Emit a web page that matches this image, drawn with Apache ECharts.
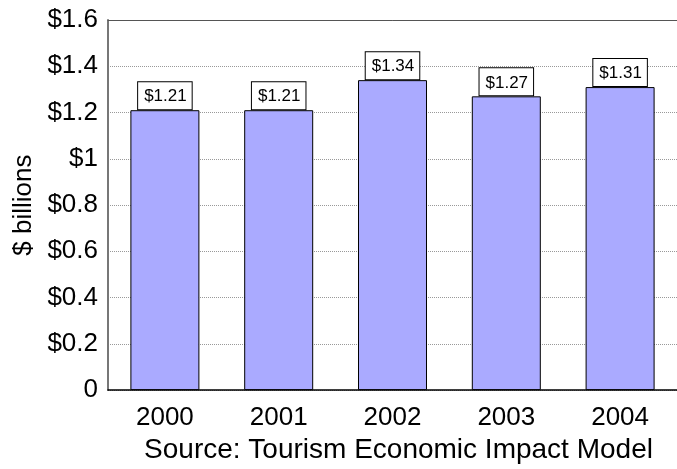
<!DOCTYPE html>
<html>
<head>
<meta charset="utf-8">
<script src="https://cdn.jsdelivr.net/npm/echarts@6/dist/echarts.min.js"></script>
<style>html,body{margin:0;padding:0;background:#fff}#c{width:677px;height:469px}</style>
</head>
<body>
<div id="c"></div>
<script>
var years = ['2000', '2001', '2002', '2003', '2004'];
var impact = [1.21, 1.21, 1.34, 1.27, 1.31];
var yTicks = [0, 0.2, 0.4, 0.6, 0.8, 1, 1.2, 1.4, 1.6];
var yName = '$ billions';
var sourceText = 'Source: Tourism Economic Impact Model';

var FONT = 'Arial, "Liberation Sans", sans-serif';
var chart = echarts.init(document.getElementById('c'));
chart.setOption({
  animation: false,
  backgroundColor: '#fff',
  grid: { left: 108, top: 20, width: 572.5, bottom: 77, containLabel: false },
  xAxis: [{
    type: 'category',
    data: years,
    axisLine: { show: true, lineStyle: { color: '#000', width: 1.5 } },
    axisTick: { show: false },
    axisLabel: { fontFamily: FONT, fontSize: 26, color: '#000', margin: 15 },
    name: sourceText,
    nameLocation: 'middle',
    nameGap: 39,
    nameTextStyle: { fontFamily: FONT, fontSize: 28, color: '#000', padding: [0, 0, 0, 12] }
  }, {
    type: 'category',
    data: years,
    position: 'top',
    axisLine: { show: true, lineStyle: { color: '#555', width: 1 } },
    axisTick: { show: false },
    axisLabel: { show: false }
  }],
  yAxis: {
    type: 'value',
    min: yTicks[0],
    max: yTicks[yTicks.length - 1],
    interval: 0.2,
    axisLine: { show: true, lineStyle: { color: '#777', width: 2 } },
    axisTick: { show: false },
    splitLine: { show: true, lineStyle: { color: '#999', type: [1, 1], width: 1 } },
    axisLabel: {
      fontFamily: FONT, fontSize: 26, color: '#000', margin: 10,
      formatter: function (v) { var r = Math.round(v * 10) / 10; return r === 0 ? '0' : '$' + r; }
    },
    name: yName,
    nameLocation: 'middle',
    nameGap: 71,
    nameTextStyle: { fontFamily: FONT, fontSize: 26, color: '#000' }
  },
  series: [{
    type: 'bar',
    data: impact,
    barWidth: 69,
    itemStyle: { color: '#aaaaff', borderColor: '#000', borderWidth: 1 },
    label: {
      show: true,
      position: 'top',
      distance: 1,
      formatter: function (p) { return '$' + p.value.toFixed(2); },
      fontFamily: FONT, fontSize: 17, color: '#000',
      backgroundColor: '#fff',
      borderColor: '#000', borderWidth: 1,
      padding: [6, 5, 4, 6]
    }
  }]
});
</script>
</body>
</html>
